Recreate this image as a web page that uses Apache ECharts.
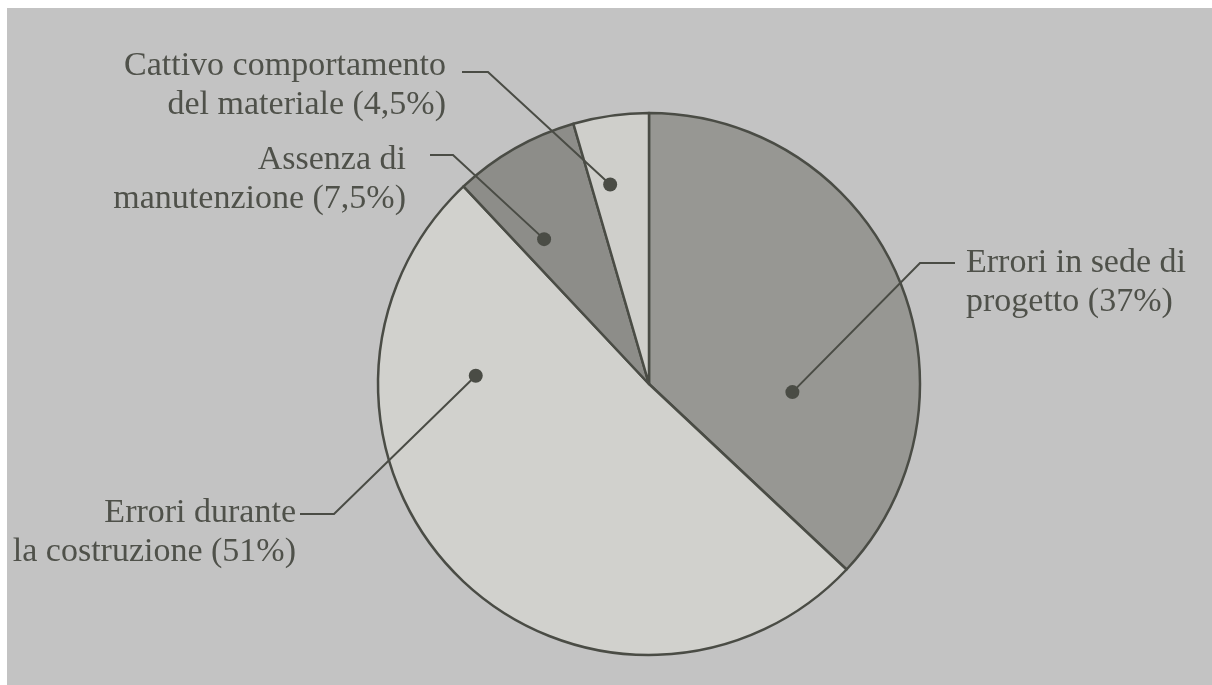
<!DOCTYPE html>
<html><head><meta charset="utf-8">
<script src="https://cdn.jsdelivr.net/npm/echarts@6/dist/echarts.min.js"></script>
<style>html,body{margin:0;padding:0;background:#fff}#c{width:1212px;height:685px}</style>
</head><body><div id="c"></div>
<script>
// ---- data ----
const categories = ['Errori in sede di progetto', 'Errori durante la costruzione', 'Assenza di manutenzione', 'Cattivo comportamento del materiale'];
const values = [37, 51, 7.5, 4.5];
const labelFirstLines = ['Errori in sede di', 'Errori durante', 'Assenza di', 'Cattivo comportamento'];
const labelSecondLines = ['progetto', 'la costruzione', 'manutenzione', 'del materiale'];

// ---- layout & style ----
const CX = 649, CY = 384, R = 271;
const sliceColors = ['#979793', '#d1d1cd', '#8d8d89', '#cfcfcb'];
const ink = '#4a4c45';
const textColor = '#4f514a';
// dot anchor: [fraction along slice angle, fraction of radius]
const anchorSpec = [[0.70, 0.53], [0.76, 0.64], [0.27, 0.66], [0.32, 0.75]];
const labelPos = [
  {x: 966, y: 283, align: 'left',  elbow: [920, 263], end: [955, 263]},
  {x: 296, y: 533, align: 'right', elbow: [334, 514], end: [300, 514]},
  {x: 406, y: 180, align: 'right', elbow: [453, 155], end: [430, 155]},
  {x: 446, y: 86,  align: 'right', elbow: [488, 72],  end: [462, 72]}
];

const total = values.reduce((a, b) => a + b, 0);
const anchors = [];
let acc = 0;
values.forEach((v, i) => {
  const span = v / total * 360;
  const ang = (acc + anchorSpec[i][0] * span) * Math.PI / 180;
  const rr = anchorSpec[i][1] * R;
  anchors.push([CX + Math.sin(ang) * rr, CY - Math.cos(ang) * rr]);
  acc += span;
});

const fmt = v => String(v).replace('.', ',');

const leaders = anchors.map((p, i) => ({
  type: 'polyline',
  shape: {points: [p, labelPos[i].elbow, labelPos[i].end]},
  style: {stroke: ink, lineWidth: 2, fill: null},
  z: 50
}));
const dots = anchors.map(p => ({
  type: 'circle', shape: {cx: p[0], cy: p[1], r: 7}, style: {fill: ink}, z: 51
}));

const chart = echarts.init(document.getElementById('c'), null, {renderer: 'canvas'});
chart.setOption({
  animation: false,
  backgroundColor: '#c3c3c3',
  graphic: [
    {type: 'rect', shape: {x: 0, y: 0, width: 1212, height: 8}, style: {fill: '#ffffff'}, z: 100},
    {type: 'rect', shape: {x: 0, y: 0, width: 7, height: 685}, style: {fill: '#ffffff'}, z: 100}
  ].concat(leaders, dots),
  series: [{
    type: 'pie',
    center: [CX, CY],
    radius: R,
    startAngle: 90,
    clockwise: true,
    avoidLabelOverlap: false,
    silent: true,
    data: categories.map((c, i) => ({
      name: c, value: values[i],
      itemStyle: {color: sliceColors[i]}
    })),
    itemStyle: {borderColor: ink, borderWidth: 2.5},
    label: {
      show: true,
      formatter: p => labelFirstLines[p.dataIndex] + '\n' + labelSecondLines[p.dataIndex] + ' (' + fmt(values[p.dataIndex]) + '%)',
      fontFamily: 'Liberation Serif',
      fontSize: 34,
      lineHeight: 39,
      color: textColor
    },
    labelLine: {show: false},
    labelLayout: function (params) {
      const L = labelPos[params.dataIndex];
      return {x: L.x, y: L.y, align: L.align, verticalAlign: 'middle'};
    }
  }]
});
</script>
</body></html>
